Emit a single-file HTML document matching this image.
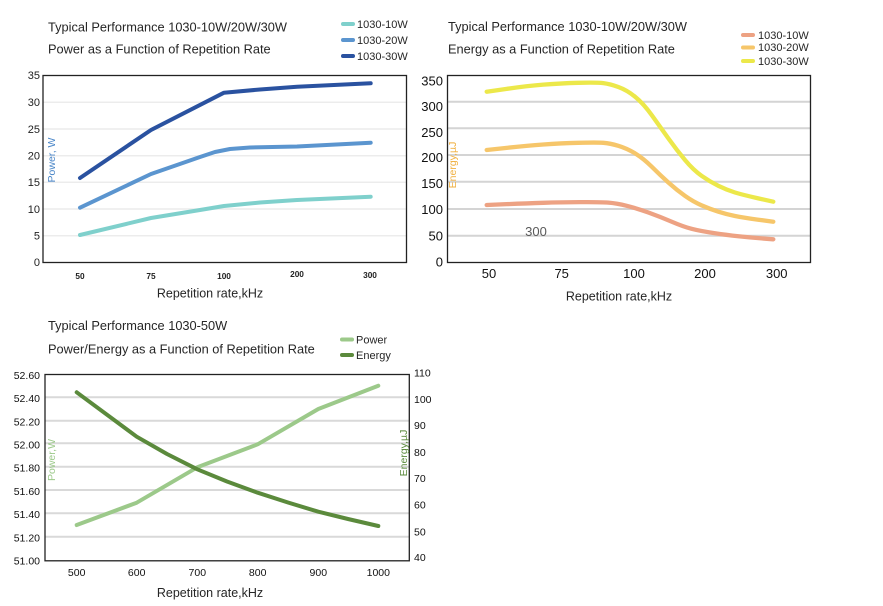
<!DOCTYPE html>
<html><head><meta charset="utf-8"><style>
html,body{margin:0;padding:0;background:#fff;}
svg{display:block;font-family:"Liberation Sans",sans-serif;}
</style></head><body>
<svg width="883" height="606" viewBox="0 0 883 606" xmlns="http://www.w3.org/2000/svg">
<rect width="883" height="606" fill="#fff"/>

<!-- ============ Chart 1 ============ -->
<text x="48" y="31.5" font-size="12.8" fill="#262626">Typical Performance 1030-10W/20W/30W</text>
<text x="48" y="53.5" font-size="12.8" fill="#262626">Power as a Function of Repetition Rate</text>
<g stroke-width="4" stroke-linecap="round">
<line x1="343" y1="24" x2="353" y2="24" stroke="#7fd0cc"/>
<line x1="343" y1="40" x2="353" y2="40" stroke="#5b95cf"/>
<line x1="343" y1="56" x2="353" y2="56" stroke="#2a52a0"/>
</g>
<g font-size="11" fill="#262626">
<text x="357" y="28">1030-10W</text>
<text x="357" y="44">1030-20W</text>
<text x="357" y="60">1030-30W</text>
</g>
<g stroke="#ececec" stroke-width="1.5">
<line x1="43" y1="102.3" x2="406" y2="102.3"/>
<line x1="43" y1="129" x2="406" y2="129"/>
<line x1="43" y1="155.7" x2="406" y2="155.7"/>
<line x1="43" y1="182.3" x2="406" y2="182.3"/>
<line x1="43" y1="209" x2="406" y2="209"/>
<line x1="43" y1="235.7" x2="406" y2="235.7"/>
</g>
<rect x="43" y="75.5" width="363.5" height="187" fill="none" stroke="#222" stroke-width="1.3"/>
<g font-size="11" fill="#222" text-anchor="end">
<text x="40" y="79">35</text><text x="40" y="106">30</text><text x="40" y="133">25</text>
<text x="40" y="159.5">20</text><text x="40" y="186">15</text><text x="40" y="213">10</text>
<text x="40" y="239.5">5</text><text x="40" y="266">0</text>
</g>
<g font-size="8.3" fill="#222" text-anchor="middle" font-weight="bold">
<text x="80" y="279">50</text><text x="151" y="279">75</text><text x="224" y="279">100</text>
<text x="297" y="277">200</text><text x="370" y="278">300</text>
</g>
<text x="210" y="297.5" font-size="12.5" fill="#262626" text-anchor="middle">Repetition rate,kHz</text>
<text transform="translate(55,160) rotate(-90)" font-size="10.5" fill="#4a86c8" text-anchor="middle">Power, W</text>
<g fill="none" stroke-width="4" stroke-linecap="round" stroke-linejoin="round">
<polyline stroke="#7fd0cc" points="80,235 151,218 200,210 224,206 260,202.5 297,200 370.7,196.7"/>
<polyline stroke="#5b95cf" points="80,207.7 151,174 200,157 215,152 230,149 250,147.5 297,146.5 370.7,142.7"/>
<polyline stroke="#2a52a0" points="80,178 151,130 224,92.7 260,89.5 297,86.7 370.7,83.3"/>
</g>

<!-- ============ Chart 2 ============ -->
<text x="448" y="31" font-size="12.8" fill="#262626">Typical Performance 1030-10W/20W/30W</text>
<text x="448" y="53.5" font-size="12.8" fill="#262626">Energy as a Function of Repetition Rate</text>
<g stroke-width="4" stroke-linecap="round">
<line x1="743" y1="35" x2="753" y2="35" stroke="#eda283"/>
<line x1="743" y1="47.5" x2="753" y2="47.5" stroke="#f6c66a"/>
<line x1="743" y1="61" x2="753" y2="61" stroke="#ece84a"/>
</g>
<g font-size="11" fill="#262626">
<text x="758" y="39">1030-10W</text>
<text x="758" y="51">1030-20W</text>
<text x="758" y="65">1030-30W</text>
</g>
<g stroke="#d4d4d4" stroke-width="2">
<line x1="448" y1="101.7" x2="810" y2="101.7"/>
<line x1="448" y1="128.3" x2="810" y2="128.3"/>
<line x1="448" y1="155" x2="810" y2="155"/>
<line x1="448" y1="181.7" x2="810" y2="181.7"/>
<line x1="448" y1="209" x2="810" y2="209"/>
<line x1="448" y1="235.7" x2="810" y2="235.7"/>
</g>
<rect x="447.5" y="75.5" width="363" height="187" fill="none" stroke="#222" stroke-width="1.3"/>
<g font-size="13" fill="#111" text-anchor="end">
<text x="443" y="85.5">350</text><text x="443" y="111.2">300</text><text x="443" y="136.8">250</text>
<text x="443" y="161.8">200</text><text x="443" y="187.8">150</text><text x="443" y="213.8">100</text>
<text x="443" y="240.5">50</text><text x="443" y="266.5">0</text>
</g>
<g font-size="13" fill="#111" text-anchor="middle">
<text x="489" y="278">50</text><text x="561.7" y="278">75</text><text x="634" y="278">100</text>
<text x="705" y="278">200</text><text x="776.7" y="278">300</text>
</g>
<text x="619" y="300.5" font-size="12.5" fill="#262626" text-anchor="middle">Repetition rate,kHz</text>
<text transform="translate(456,165) rotate(-90)" font-size="10.5" fill="#f0b040" text-anchor="middle">Energy,µJ</text>
<text x="536" y="236" font-size="13" fill="#595959" text-anchor="middle">300</text>
<g fill="none" stroke-width="4.3" stroke-linecap="round" stroke-linejoin="round">
<path stroke="#eda283" d="M486.7,205 L506.7,204.15 Q526.7,203.3 543.35,202.8 Q560,202.3 580,202.15 Q600,202 608.35,202.65 Q616.7,203.3 626.7,205.8 Q636.7,208.3 648.35,212.5 Q660,216.7 671.65,221.7 Q683.3,226.7 691.65,228.85 Q700,231 713.35,233 Q726.7,235 738.35,236.25 Q750,237.5 761.65,238.4 L773.3,239.3"/>
<path stroke="#f6c66a" d="M486.7,150 L506.7,147.85 Q526.7,145.7 543.35,144.5 Q560,143.3 578.35,142.8 Q596.7,142.3 603.35,142.8 Q610,143.3 618.35,145.8 Q626.7,148.3 635,153.3 Q643.3,158.3 651.65,166.65 Q660,175 668.35,182.5 Q676.7,190 685,195.85 Q693.3,201.7 701.65,205.35 Q710,209 718.35,211.65 Q726.7,214.3 735,216 Q743.3,217.7 758.3,219.7 L773.3,221.7"/>
<path stroke="#ece84a" d="M486.7,91.7 L506.7,88.85 Q526.7,86 543.35,84.65 Q560,83.3 578.35,82.8 Q596.7,82.3 603.35,83.15 Q610,84 618.35,87 Q626.7,90 635,96.65 Q643.3,103.3 651.65,115 Q660,126.7 668.35,138.35 Q676.7,150 685,160 Q693.3,170 701.65,175.85 Q710,181.7 718.35,185.85 Q726.7,190 735,192.5 Q743.3,195 758.3,198.35 L773.3,201.7"/>
</g>

<!-- ============ Chart 3 ============ -->
<text x="48" y="330" font-size="12.8" fill="#262626">Typical Performance 1030-50W</text>
<text x="48" y="353.5" font-size="12.8" fill="#262626">Power/Energy as a Function of Repetition Rate</text>
<g stroke-width="4" stroke-linecap="round">
<line x1="342" y1="339.5" x2="352" y2="339.5" stroke="#9cc98a"/>
<line x1="342" y1="355" x2="352" y2="355" stroke="#5b8a3c"/>
</g>
<g font-size="11" fill="#262626">
<text x="356" y="343.5">Power</text>
<text x="356" y="359">Energy</text>
</g>
<g stroke="#d9d9d9" stroke-width="2">
<line x1="45" y1="397.3" x2="409" y2="397.3"/>
<line x1="45" y1="420.7" x2="409" y2="420.7"/>
<line x1="45" y1="443.3" x2="409" y2="443.3"/>
<line x1="45" y1="466.7" x2="409" y2="466.7"/>
<line x1="45" y1="490" x2="409" y2="490"/>
<line x1="45" y1="513.3" x2="409" y2="513.3"/>
<line x1="45" y1="536.7" x2="409" y2="536.7"/>
</g>
<rect x="45" y="374.5" width="364.3" height="186.3" fill="none" stroke="#222" stroke-width="1.3"/>
<g font-size="10.5" fill="#111" text-anchor="end">
<text x="40" y="379">52.60</text><text x="40" y="402">52.40</text><text x="40" y="425.5">52.20</text>
<text x="40" y="448.5">52.00</text><text x="40" y="471.5">51.80</text><text x="40" y="495">51.60</text>
<text x="40" y="518">51.40</text><text x="40" y="541.5">51.20</text><text x="40" y="564.5">51.00</text>
</g>
<g font-size="10.5" fill="#111">
<text x="414" y="376.5">110</text><text x="414" y="403">100</text><text x="414" y="429">90</text>
<text x="414" y="456">80</text><text x="414" y="482">70</text><text x="414" y="508.5">60</text>
<text x="414" y="535.5">50</text><text x="414" y="561">40</text>
</g>
<g font-size="10.5" fill="#111" text-anchor="middle">
<text x="76.7" y="576">500</text><text x="136.7" y="576">600</text><text x="197.3" y="576">700</text>
<text x="257.7" y="576">800</text><text x="318.3" y="576">900</text><text x="378.3" y="576">1000</text>
</g>
<text x="210" y="597" font-size="12.5" fill="#262626" text-anchor="middle">Repetition rate,kHz</text>
<text transform="translate(55,460) rotate(-90)" font-size="10.5" fill="#9cc98a" text-anchor="middle">Power,W</text>
<text transform="translate(407,453) rotate(-90)" font-size="10.5" fill="#5b8a3c" text-anchor="middle">Energy,µJ</text>
<g fill="none" stroke-width="4" stroke-linecap="round" stroke-linejoin="round">
<polyline stroke="#9cc98a" points="76.7,525 136.7,502.7 197.3,467.3 257.7,444.3 318.3,409 378.3,385.7"/>
<polyline stroke="#5b8a3c" points="76.7,392.3 136.7,436.7 167,454 197.3,469.3 227,481.5 257.7,492.7 288,502.5 318.3,511.7 348,519 378.3,526"/>
</g>
</svg>
</body></html>
